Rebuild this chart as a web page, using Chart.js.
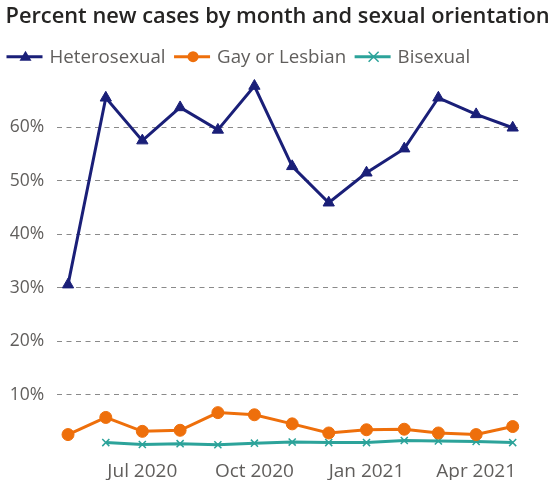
<!DOCTYPE html>
<html>
<head>
<meta charset="utf-8">
<script src="https://cdn.jsdelivr.net/npm/chart.js@4.4.1/dist/chart.umd.min.js"></script>
<style>
  html, body { margin: 0; padding: 0; background: #fff; }
  #wrap { width: 557px; height: 480px; position: relative; }
</style>
</head>
<body>
<div id="wrap"><canvas id="chart"></canvas></div>
<script>
const chartTitle = 'Percent new cases by month and sexual orientation';
const months = ['2020-05', '2020-06', '2020-07', '2020-08', '2020-09', '2020-10', '2020-11',
                '2020-12', '2021-01', '2021-02', '2021-03', '2021-04', '2021-05'];
const heterosexual = [30.6, 65.5, 57.5, 63.7, 59.5, 67.7, 52.7, 45.9, 51.5, 56.0, 65.5, 62.4, 59.9];
const gayOrLesbian = [2.6, 5.8, 3.2, 3.4, 6.7, 6.3, 4.6, 2.9, 3.5, 3.6, 2.9, 2.6, 4.1];
const bisexual = [null, 1.1, 0.75, 0.9, 0.7, 1.0, 1.2, 1.1, 1.1, 1.5, 1.4, 1.3, 1.1];
const tickMonths = ['2020-07', '2020-10', '2021-01', '2021-04'];
const tickLabels = ['Jul 2020', 'Oct 2020', 'Jan 2021', 'Apr 2021'];
const yTicks = [10, 20, 30, 40, 50, 60];

const NAVY = '#1a1f78';
const ORANGE = '#ee6f0b';
const TEAL = '#2ca39a';
const FONT = "'Open Sans', sans-serif";

// days since the first month, so the axis spaces months like a real calendar
function dayOf(m) {
  const [y, mo] = m.split('-').map(Number);
  return (Date.UTC(y, mo - 1, 1) - Date.UTC(2020, 4, 1)) / 86400000;
}
const xs = months.map(dayOf);
const points = vals => vals.map((v, i) => ({ x: xs[i], y: v }));

// title + line/marker legend drawn by hand: the built-in title squeezes to the
// padded width and the built-in legend can't show a line with a marker on it
const header = {
  id: 'header',
  afterDraw(chart) {
    const g = chart.ctx;
    g.save();
    g.textBaseline = 'alphabetic';
    g.fillStyle = '#252423';
    g.font = "600 21.8px 'Open Sans', sans-serif";
    g.fillText(chartTitle, 5.5, 23.3);

    const cy = 56.7;
    let x = 6.5;
    g.font = "18.7px 'Open Sans', sans-serif";
    chart.data.datasets.forEach(ds => {
      g.strokeStyle = ds.borderColor;
      g.fillStyle = ds.borderColor;
      g.lineWidth = 3;
      g.beginPath(); g.moveTo(x, cy); g.lineTo(x + 36, cy); g.stroke();
      const mx = x + 19;
      g.beginPath();
      if (ds.pointStyle === 'triangle') {
        g.moveTo(mx, cy - 6); g.lineTo(mx + 6, cy + 4); g.lineTo(mx - 6, cy + 4); g.closePath(); g.fill();
      } else if (ds.pointStyle === 'circle') {
        g.arc(mx, cy, 5.5, 0, Math.PI * 2); g.fill();
      } else {
        g.lineWidth = 1.5;
        g.moveTo(mx - 5, cy - 5); g.lineTo(mx + 5, cy + 5);
        g.moveTo(mx + 5, cy - 5); g.lineTo(mx - 5, cy + 5); g.stroke();
      }
      x += 36 + 7;
      g.fillStyle = '#605e5c';
      g.fillText(ds.label, x, 63.3);
      x += g.measureText(ds.label).width + 8.5;
    });
    g.restore();
  }
};

const ctx = document.getElementById('chart').getContext('2d');
new Chart(ctx, {
  type: 'line',
  data: {
    datasets: [{
      label: 'Heterosexual',
      data: points(heterosexual),
      borderColor: NAVY,
      backgroundColor: NAVY,
      borderWidth: 3,
      pointStyle: 'triangle',
      pointRadius: 6.5,
      pointBorderWidth: 1,
      clip: false,
    }, {
      label: 'Gay or Lesbian',
      data: points(gayOrLesbian),
      borderColor: ORANGE,
      backgroundColor: ORANGE,
      borderWidth: 3,
      pointStyle: 'circle',
      pointRadius: 6,
      pointBorderWidth: 1,
      clip: false,
    }, {
      label: 'Bisexual',
      data: points(bisexual),
      borderColor: TEAL,
      backgroundColor: TEAL,
      borderWidth: 3,
      pointStyle: 'crossRot',
      pointRadius: 5,
      pointBorderWidth: 1.5,
      clip: false,
    }]
  },
  plugins: [header],
  options: {
    responsive: true,
    maintainAspectRatio: false,
    animation: false,
    layout: { padding: { left: 6, right: 37, top: 84.4, bottom: 0 } },
    scales: {
      x: {
        type: 'linear',
        min: -9.3,
        max: 371,
        border: { display: false },
        grid: { display: false },
        afterBuildTicks: scale => {
          scale.ticks = tickMonths.map(m => ({ value: dayOf(m) }));
        },
        afterFit: scale => { scale.height = 31.5; },
        ticks: {
          padding: 4,
          color: '#605e5c',
          font: { family: FONT, size: 19 },
          callback: (v) => tickLabels[tickMonths.map(dayOf).indexOf(v)],
        },
      },
      y: {
        min: 0,
        max: 68,
        afterBuildTicks: scale => {
          scale.ticks = yTicks.map(v => ({ value: v }));
        },
        afterFit: scale => { scale.width = 50.7; },
        grid: {
          drawTicks: false,
          color: '#8a8a8a',
          lineWidth: 1,
        },
        border: { display: false, dash: [5, 4.5] },
        ticks: {
          padding: 12.5,
          color: '#605e5c',
          font: { family: FONT, size: 17.5 },
          callback: v => v + '%',
        },
      },
    },
    plugins: {
      title: { display: false },
      legend: { display: false },
      tooltip: { enabled: false },
    },
  },
});
</script>
</body>
</html>
